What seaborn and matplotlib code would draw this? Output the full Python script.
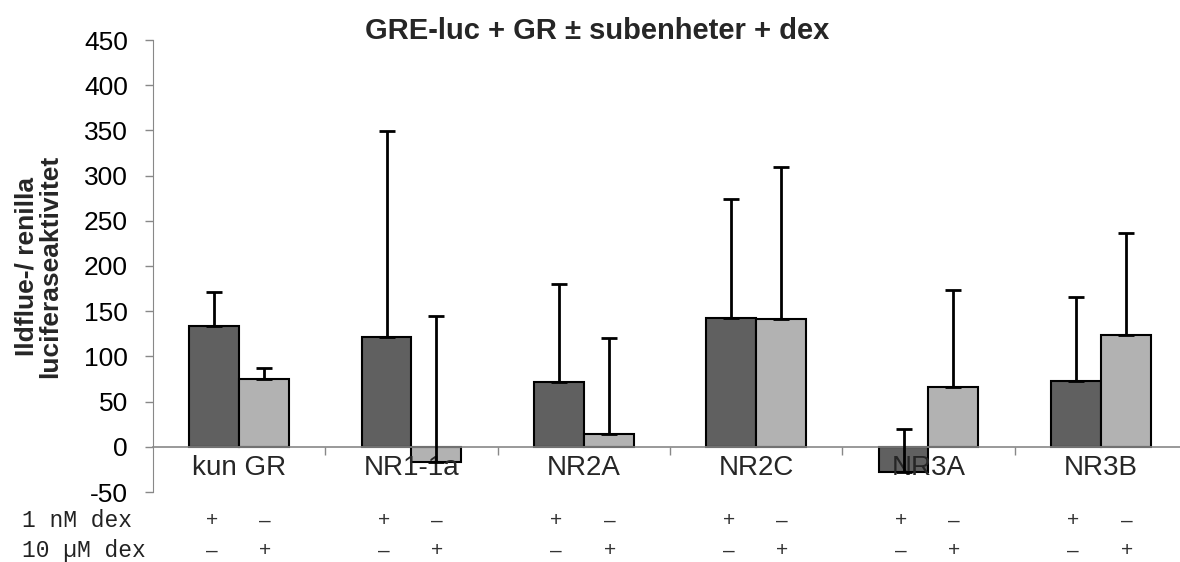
import matplotlib
matplotlib.use("Agg")
import matplotlib.pyplot as plt
import seaborn as sns
import pandas as pd
import numpy as np
from matplotlib.ticker import FixedLocator

categories = ["kun GR", "NR1-1a", "NR2A", "NR2C", "NR3A", "NR3B"]
low_dex = [134, 122, 72, 142, -28, 73]          # 1 nM dex
high_dex = [75, -17, 14, 141, 66, 124]          # 10 µM dex
low_err = [37, 227, 108, 132, 48, 93]
high_err = [12, 162, 106, 169, 108, 112]
row_labels = ["1 nM dex", "10 \u00b5M dex"]
row1_signs = ["+", "\u2013"]
row2_signs = ["\u2013", "+"]

series = ["1 nM", "10 uM"]
df = pd.DataFrame({
    "cat": categories * 2,
    "val": low_dex + high_dex,
    "err": low_err + high_err,
    "series": [series[0]] * 6 + [series[1]] * 6,
})

sns.set_style("white")
plt.rcParams["font.family"] = ["Liberation Sans", "DejaVu Sans"]
plt.rcParams["axes.unicode_minus"] = False

fig = plt.figure(figsize=(11.8, 5.62), dpi=100)
ax = fig.add_axes([153 / 1180, 1 - 492 / 562, (1187 - 153) / 1180, (492 - 40) / 562])

sns.barplot(data=df, x="cat", y="val", hue="series", order=categories,
            hue_order=series, palette=["#606060", "#b2b2b2"], width=0.58,
            edgecolor="black", linewidth=1.5, errorbar=None, legend=False,
            ax=ax, zorder=2)

for cont, errs in zip(ax.containers, [low_err, high_err]):
    for bar, e in zip(cont, errs):
        xc = bar.get_x() + bar.get_width() / 2
        h = bar.get_height()
        ax.errorbar([xc], [h], yerr=[[0], [e]], fmt="none", ecolor="black",
                    elinewidth=2, capsize=6, capthick=2, zorder=3)

ax.set_axisbelow(False)
ax.set_ylim(-50, 450)
ax.set_xlim(-0.5, 5.5)
ax.set_yticks(np.arange(-50, 451, 50))
ax.tick_params(axis="y", labelsize=19, colors="#888888", labelcolor="black",
               length=6, width=1, direction="out", left=True, pad=12)

for s in ["top", "right"]:
    ax.spines[s].set_visible(False)
ax.spines["left"].set_color("#888888")
ax.spines["bottom"].set_color("#888888")
ax.spines["bottom"].set_linewidth(1.2)
ax.spines["bottom"].set_position(("data", 0))

ax.set_xticks(range(len(categories)))
ax.set_xticklabels(categories)
ax.xaxis.set_minor_locator(FixedLocator([0.5, 1.5, 2.5, 3.5, 4.5]))
ax.tick_params(axis="x", which="major", length=0, labelsize=20, pad=6)
ax.tick_params(axis="x", which="minor", length=6, width=1, color="#888888",
               direction="out", bottom=True)
ax.set_xlabel("")
ax.set_ylabel("Ildflue-/ renilla\nluciferaseaktivitet", fontsize=19,
              fontweight="bold", linespacing=1.0)
ax.yaxis.set_label_coords(-0.088, 0.5)

fig.text(0.506, 1 - 31 / 562, "GRE-luc + GR \u00b1 subenheter + dex",
         ha="center", va="center", fontsize=21, fontweight="bold")

trans = ax.get_xaxis_transform()
rows_y = [-0.064, -0.130]
for lab, yy in zip(row_labels, rows_y):
    fig.text(22 / 1180, 1 - (492 - yy * 452) / 562, lab, ha="left",
             va="center", fontsize=16.5, color="#222222",
             family=["Liberation Mono", "DejaVu Sans Mono"])
for i in range(len(categories)):
    for j, (s1, s2) in enumerate(zip(row1_signs, row2_signs)):
        xx = i + (-0.16 if j == 0 else 0.15)
        ax.text(xx, rows_y[0], s1, transform=trans, ha="center", va="center",
                fontsize=15, color="#333333", clip_on=False)
        ax.text(xx, rows_y[1], s2, transform=trans, ha="center", va="center",
                fontsize=15, color="#333333", clip_on=False)

fig.savefig("out.png", dpi=100)
